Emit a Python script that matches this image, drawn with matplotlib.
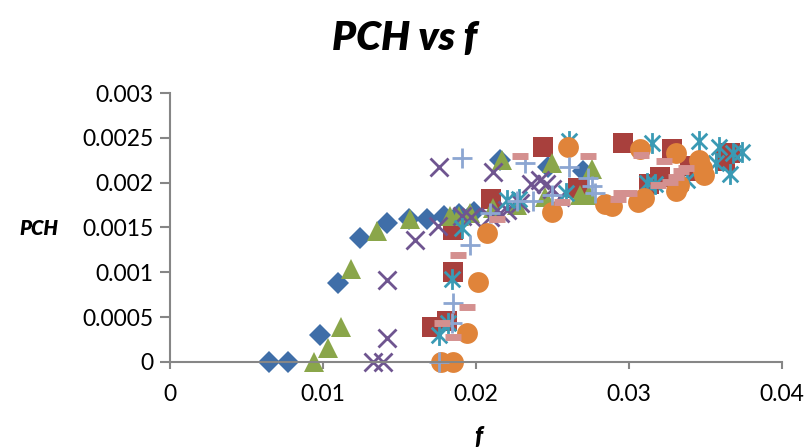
import matplotlib.pyplot as plt
import numpy as np
from matplotlib.path import Path

plt.rcParams['font.family'] = ['Lato', 'DejaVu Sans']

# series data (f, PCH)
blue_f = [0.0065, 0.0077, 0.0098, 0.0110, 0.0124, 0.0142, 0.0156, 0.0168, 0.0179, 0.0189, 0.0199, 0.0216, 0.0247, 0.0270]
blue_p = [0.0, 0.0, 0.0003, 0.00088, 0.00138, 0.00155, 0.0016, 0.0016, 0.00163, 0.00165, 0.00167, 0.00225, 0.00217, 0.00213]

red_f = [0.0171, 0.0181, 0.0185, 0.0185, 0.0210, 0.0244, 0.0267, 0.0296, 0.0313, 0.0320, 0.0328, 0.0340, 0.0345, 0.0366, 0.0363]
red_p = [0.00039, 0.00046, 0.0010, 0.00147, 0.00182, 0.0024, 0.00194, 0.00244, 0.00199, 0.00206, 0.00238, 0.00219, 0.00213, 0.00233, 0.00224]

green_f = [0.0094, 0.0103, 0.0112, 0.0118, 0.0135, 0.0157, 0.0183, 0.0189, 0.0196, 0.0211, 0.0217, 0.0227, 0.0245, 0.0250, 0.0268, 0.0274, 0.0276]
green_p = [0.0, 0.00016, 0.00039, 0.00104, 0.00146, 0.0016, 0.00163, 0.00163, 0.00166, 0.00172, 0.00225, 0.00175, 0.00184, 0.00222, 0.00186, 0.00186, 0.00215]

purple_f = [0.0133, 0.0139, 0.0142, 0.0142, 0.0160, 0.0175, 0.0176, 0.0191, 0.0197, 0.0209, 0.0211, 0.0216, 0.0220, 0.0229, 0.0236, 0.0242, 0.0246, 0.0250, 0.0255]
purple_p = [0.0, 0.0, 0.00027, 0.00091, 0.00136, 0.00152, 0.00217, 0.00163, 0.00162, 0.00162, 0.00212, 0.00166, 0.00169, 0.00177, 0.00199, 0.00203, 0.00198, 0.00193, 0.00184]

cyan_f = [0.0176, 0.0182, 0.0184, 0.0191, 0.0220, 0.0228, 0.0259, 0.0261, 0.0312, 0.0317, 0.0315, 0.0338, 0.0346, 0.0359, 0.0357, 0.0366, 0.0368, 0.0374]
cyan_p = [0.0003, 0.00043, 0.00092, 0.00149, 0.00181, 0.00182, 0.00189, 0.00247, 0.0020, 0.00198, 0.00244, 0.00203, 0.00247, 0.0024, 0.00222, 0.0021, 0.00233, 0.00234]

orange_f = [0.0177, 0.0185, 0.0194, 0.0201, 0.0207, 0.0250, 0.0260, 0.0284, 0.0289, 0.0306, 0.0310, 0.0307, 0.0331, 0.0331, 0.0333, 0.0346, 0.0349, 0.0348]
orange_p = [0.0, 0.0, 0.00032, 0.00089, 0.00144, 0.00167, 0.0024, 0.00176, 0.00174, 0.00178, 0.00183, 0.00238, 0.00233, 0.00191, 0.00197, 0.00225, 0.00208, 0.00216]

plus_f = [0.0176, 0.0184, 0.0185, 0.0196, 0.0191, 0.0209, 0.0227, 0.0237, 0.0232, 0.0250, 0.0261, 0.0273, 0.0276, 0.0278]
plus_p = [0.0, 0.00043, 0.00066, 0.0013, 0.00227, 0.00166, 0.0018, 0.0018, 0.00222, 0.00186, 0.00217, 0.00205, 0.00196, 0.00189]

pink_f = [0.0178, 0.0185, 0.0188, 0.0194, 0.0214, 0.0229, 0.0256, 0.0273, 0.0293, 0.0295, 0.0300, 0.0308, 0.0319, 0.0323, 0.0327, 0.0331, 0.0334, 0.0337]
pink_p = [0.00043, 0.00028, 0.00119, 0.00061, 0.00159, 0.0023, 0.00178, 0.0023, 0.00182, 0.00189, 0.00189, 0.00231, 0.00197, 0.00224, 0.00201, 0.00206, 0.00213, 0.00216]

xticks = [0, 0.01, 0.02, 0.03, 0.04]
xtick_labels = ['0', '0.01', '0.02', '0.03', '0.04']
yticks = [0, 0.0005, 0.001, 0.0015, 0.002, 0.0025, 0.003]
ytick_labels = ['0', '0.0005', '0.001', '0.0015', '0.002', '0.0025', '0.003']

# excel style asterisk: X plus a vertical bar
star = Path([(0, -1), (0, 1), (-0.75, -0.75), (0.75, 0.75), (-0.75, 0.75), (0.75, -0.75)],
            [Path.MOVETO, Path.LINETO, Path.MOVETO, Path.LINETO, Path.MOVETO, Path.LINETO])

fig = plt.figure(figsize=(8.05, 4.48), dpi=100)
ax = fig.add_axes([0.2112, 0.192, 0.7602, 0.6004])

kw = dict(linestyle='none', clip_on=False)
ax.plot(blue_f, blue_p, marker='D', markersize=11, color='#3F6EA8', markeredgewidth=0, **kw)
ax.plot(red_f, red_p, marker='s', markersize=14, color='#A8403D', markeredgewidth=0, **kw)
ax.plot(green_f, green_p, marker='^', markersize=15, color='#8AA64A', markeredgewidth=0, **kw)
ax.plot(purple_f, purple_p, marker='x', markersize=13, color='#6F5590', markeredgewidth=2, **kw)
ax.plot(cyan_f, cyan_p, marker=star, markersize=15, color='#3A9AB4', markeredgewidth=2, **kw)
ax.plot(orange_f, orange_p, marker='o', markersize=15, color='#E0843A', markeredgewidth=0, **kw)
ax.plot(plus_f, plus_p, marker='+', markersize=15, color='#8CA6D2', markeredgewidth=2, **kw)
ax.plot(pink_f, pink_p, marker='_', markersize=11, color='#D4908F', markeredgewidth=5, **kw)

ax.set_xlim(0, 0.04)
ax.set_ylim(0, 0.003)
ax.set_xticks(xticks)
ax.set_xticklabels(xtick_labels)
ax.set_yticks(yticks)
ax.set_yticklabels(ytick_labels)

for s in ['top', 'right']:
    ax.spines[s].set_visible(False)
for s in ['left', 'bottom']:
    ax.spines[s].set_color('#868686')
    ax.spines[s].set_linewidth(1.5)
ax.tick_params(axis='both', colors='#868686', labelcolor='black', labelsize=16.5, width=1.5)
ax.tick_params(axis='y', length=7, pad=5)
ax.tick_params(axis='x', length=5, pad=11)

fig.text(0.503, 0.913, 'PCH vs f', ha='center', va='center', fontsize=29, fontweight='heavy', fontstyle='italic')
fig.text(0.048, 0.49, 'PCH', ha='center', va='center', fontsize=14.5, fontweight='heavy', fontstyle='italic')
fig.text(0.594, 0.025, 'f', ha='center', va='center', fontsize=17, fontweight='heavy', fontstyle='italic')

fig.savefig('out.png', dpi=100)
